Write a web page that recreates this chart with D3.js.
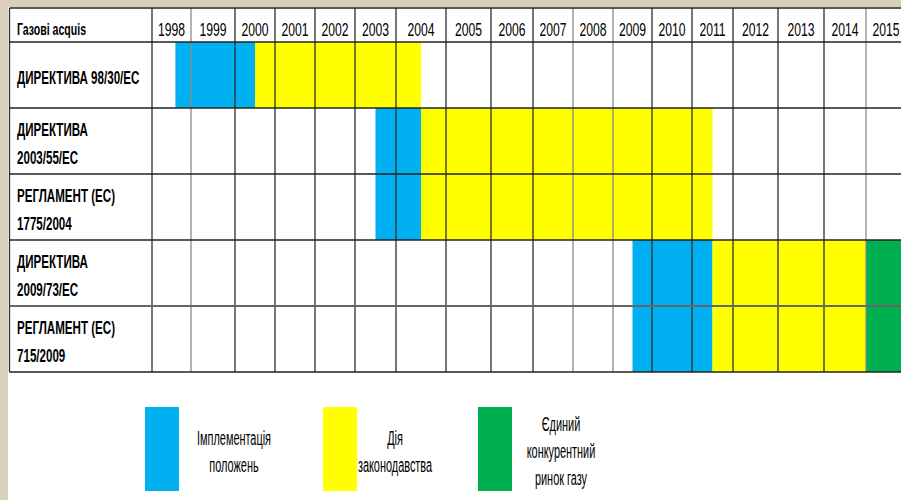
<!DOCTYPE html>
<html>
<head>
<meta charset="utf-8">
<script src="https://cdn.jsdelivr.net/npm/d3@7"></script>
<style>
  body { margin: 0; background: #d9cfba; }
  svg { display: block; }
  text { font-family: "Liberation Sans", Arial, sans-serif; fill: #000; }
</style>
</head>
<body>
<svg id="chart" width="901" height="500"></svg>
<script>
// data
const headerTitle = "Газові acquis";
const years = [1998, 1999, 2000, 2001, 2002, 2003, 2004, 2005, 2006, 2007, 2008, 2009, 2010, 2011, 2012, 2013, 2014, 2015];
const acts = [
  ["ДИРЕКТИВА 98/30/ЕС"],
  ["ДИРЕКТИВА", "2003/55/ЕС"],
  ["РЕГЛАМЕНТ (ЕС)", "1775/2004"],
  ["ДИРЕКТИВА", "2009/73/ЕС"],
  ["РЕГЛАМЕНТ (ЕС)", "715/2009"]
];
// phases per act (year fractions)
const implStart = [1998.6, 2003.5, 2003.5, 2009.5, 2009.5];
const implEnd   = [2000.5, 2004.5, 2004.5, 2011.5, 2011.5];
const lawEnd    = [2004.5, 2011.5, 2011.5, 2015.0, 2015.0];
const marketStart = [null, null, null, 2015.0, 2015.0];
const marketEnd   = [null, null, null, 2016.0, 2016.0];

const legendLabels = [
  ["Імплементація", "положень"],
  ["Дія", "законодавства"],
  ["Єдиний", "конкурентний", "ринок газу"]
];
const colors = ["#00b0f0", "#ffff00", "#00b050"];

// layout
const colWidths = [39, 44, 40, 40, 40, 41, 50, 45, 42, 40, 40, 39, 40, 41, 45, 46, 42, 40];
const tableLeft = 9.5, labelRight = 152, tableTop = 8, headerBottom = 42, tableBottom = 372;

const svg = d3.select("#chart");

// condensed text (original font is narrow)
function txt(g, x, y, str, size, sx, bold, anchor) {
  return g.append("text")
    .attr("transform", `translate(${x},${y}) scale(${sx},1)`)
    .attr("font-size", size)
    .attr("font-weight", bold ? "bold" : "normal")
    .attr("text-anchor", anchor || "start")
    .text(str);
}

svg.append("rect").attr("x", 8).attr("y", 7).attr("width", 901 - 8).attr("height", 500 - 7).attr("fill", "#fff");

const edgeYears = years.concat([years[years.length - 1] + 1]);
const edgePx = [labelRight];
colWidths.forEach(w => edgePx.push(edgePx[edgePx.length - 1] + w));
const x = d3.scaleLinear().domain(edgeYears).range(edgePx);

const y = d3.scaleBand().domain(d3.range(acts.length)).range([headerBottom, tableBottom]).padding(0);

// bars
const segs = [];
acts.forEach((a, i) => {
  segs.push({ row: i, s: implStart[i], e: implEnd[i], c: 0 });
  segs.push({ row: i, s: implEnd[i], e: lawEnd[i], c: 1 });
  if (marketStart[i] != null) segs.push({ row: i, s: marketStart[i], e: marketEnd[i], c: 2 });
});

svg.append("g").selectAll("rect").data(segs).join("rect")
  .attr("x", d => x(d.s))
  .attr("y", d => y(d.row))
  .attr("width", d => x(d.e) - x(d.s))
  .attr("height", y.bandwidth())
  .attr("fill", d => colors[d.c]);

// grid
const grid = svg.append("g").attr("stroke-width", 1.3).attr("fill", "none");
const grayCols = [1999, 2008, 2009, 2015];
edgeYears.slice(0, -1).forEach(yr => {
  grid.append("line")
    .attr("x1", x(yr)).attr("x2", x(yr))
    .attr("y1", tableTop).attr("y2", tableBottom)
    .attr("stroke", grayCols.includes(yr) ? "#8a8a8a" : "#2e2e2e");
});
grid.append("line").attr("x1", tableLeft).attr("x2", tableLeft).attr("y1", tableTop).attr("y2", tableBottom).attr("stroke", "#2e2e2e");
const hLines = [tableTop, headerBottom].concat(acts.map((a, i) => y(i) + y.bandwidth()));
hLines.forEach((yy, i) => {
  grid.append("line")
    .attr("x1", tableLeft).attr("x2", 901)
    .attr("y1", yy).attr("y2", yy)
    .attr("stroke", i === 5 ? "#666" : "#222")
    .attr("stroke-width", i === 5 ? 2 : 1.3);
});

// header
const head = svg.append("g");
txt(head, 17, 35, headerTitle, 16.5, 0.64, true);
years.forEach(d => txt(head, (x(d) + x(d + 1)) / 2, 36, d, 19, 0.64, false, "middle"));

// row labels
const labels = svg.append("g");
acts.forEach((lines, i) => {
  const cy = y(i) + y.bandwidth() / 2;
  lines.forEach((t, j) => {
    txt(labels, 17, cy + (j - (lines.length - 1) / 2) * 28 + 8.5, t, 19, 0.61, true);
  });
});

// legend
const legendX = [145, 323, 478];
const legendTextX = [234, 395, 561];
const legend = svg.append("g");
legendLabels.forEach((lines, i) => {
  legend.append("rect").attr("x", legendX[i]).attr("y", 407).attr("width", 34).attr("height", 84)
    .attr("fill", colors[i]);
  lines.forEach((t, j) => {
    txt(legend, legendTextX[i], 458 + (j - (lines.length - 1) / 2) * 27, t, 19.5, 0.56, false, "middle");
  });
});
</script>
</body>
</html>
